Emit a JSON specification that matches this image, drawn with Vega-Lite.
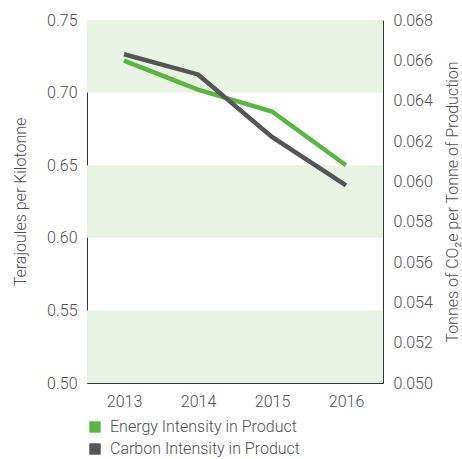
{
  "$schema": "https://vega.github.io/schema/vega-lite/v6.json",
  "width": 296,
  "height": 363,
  "autosize": {"type": "none"},
  "padding": {"left": 87, "top": 20, "right": 79, "bottom": 76},
  "background": "white",
  "config": {
    "view": {"stroke": null},
    "font": "Roboto",
    "axis": {
      "domainColor": "#333333",
      "domainWidth": 1,
      "ticks": false,
      "grid": false,
      "labelFont": "Roboto",
      "labelFontSize": 16,
      "labelFontWeight": 300,
      "labelColor": "#4f4f4f",
      "labelPadding": 10,
      "titleFont": "Roboto",
      "titleFontSize": 16,
      "titleFontWeight": 300,
      "titleColor": "#4f4f4f"
    },
    "legend": {
      "labelFont": "Roboto",
      "labelFontSize": 16,
      "labelFontWeight": 300,
      "labelColor": "#4f4f4f",
      "labelLimit": 0
    }
  },
  "datasets": {
    "bands": [
      {"lo": 0.50, "hi": 0.55},
      {"lo": 0.60, "hi": 0.65},
      {"lo": 0.70, "hi": 0.75}
    ],
    "series": [
      {"year": "2013", "series": "Energy Intensity in Product", "value": 0.722},
      {"year": "2014", "series": "Energy Intensity in Product", "value": 0.702},
      {"year": "2015", "series": "Energy Intensity in Product", "value": 0.687},
      {"year": "2016", "series": "Energy Intensity in Product", "value": 0.650},
      {"year": "2013", "series": "Carbon Intensity in Product", "value": 0.0663},
      {"year": "2014", "series": "Carbon Intensity in Product", "value": 0.0653},
      {"year": "2015", "series": "Carbon Intensity in Product", "value": 0.0622},
      {"year": "2016", "series": "Carbon Intensity in Product", "value": 0.0598}
    ]
  },
  "layer": [
    {
      "data": {"name": "bands"},
      "mark": {"type": "rect", "color": "#e8f3e4"},
      "encoding": {
        "y": {"field": "lo", "type": "quantitative", "scale": {"domain": [0.5, 0.75], "zero": false, "nice": false}, "axis": null},
        "y2": {"field": "hi"}
      }
    },
    {
      "data": {"name": "series"},
      "transform": [{"filter": "datum.series === 'Energy Intensity in Product'"}],
      "mark": {"type": "line", "strokeWidth": 4.5, "strokeJoin": "miter"},
      "encoding": {
        "x": {"field": "year", "type": "ordinal", "scale": {"type": "point", "padding": 0.5}, "axis": {"title": null, "labelAngle": 0}},
        "y": {"field": "value", "type": "quantitative", "scale": {"domain": [0.5, 0.75], "zero": false, "nice": false},
              "axis": {"orient": "left", "title": "Terajoules per Kilotonne", "values": [0.5, 0.55, 0.6, 0.65, 0.7, 0.75], "format": ".2f", "titlePadding": 18}},
        "color": {"field": "series", "type": "nominal",
                  "scale": {"domain": ["Energy Intensity in Product", "Carbon Intensity in Product"], "range": ["#5bb543", "#555557"]},
                  "legend": {"title": null, "orient": "none", "legendX": 0, "legendY": 399, "direction": "vertical",
                             "symbolType": "square", "symbolSize": 130, "rowPadding": 6, "labelOffset": 7,
                             "encode": {"symbols": {"update": {"fill": {"scale": "color", "field": "value"}, "strokeWidth": {"value": 0}}}}}}
      }
    },
    {
      "data": {"name": "series"},
      "transform": [{"filter": "datum.series === 'Carbon Intensity in Product'"}],
      "mark": {"type": "line", "strokeWidth": 4.5, "strokeJoin": "miter"},
      "encoding": {
        "x": {"field": "year", "type": "ordinal"},
        "y": {"field": "value", "type": "quantitative", "scale": {"domain": [0.05, 0.068], "zero": false, "nice": false},
              "axis": {"orient": "right", "title": "Tonnes of CO₂e per Tonne of Production", "titleAngle": 270,
                       "values": [0.05, 0.052, 0.054, 0.056, 0.058, 0.06, 0.062, 0.064, 0.066, 0.068], "format": ".3f", "titlePadding": 28}},
        "color": {"field": "series", "type": "nominal"}
      }
    }
  ],
  "resolve": {"scale": {"y": "independent"}}
}
